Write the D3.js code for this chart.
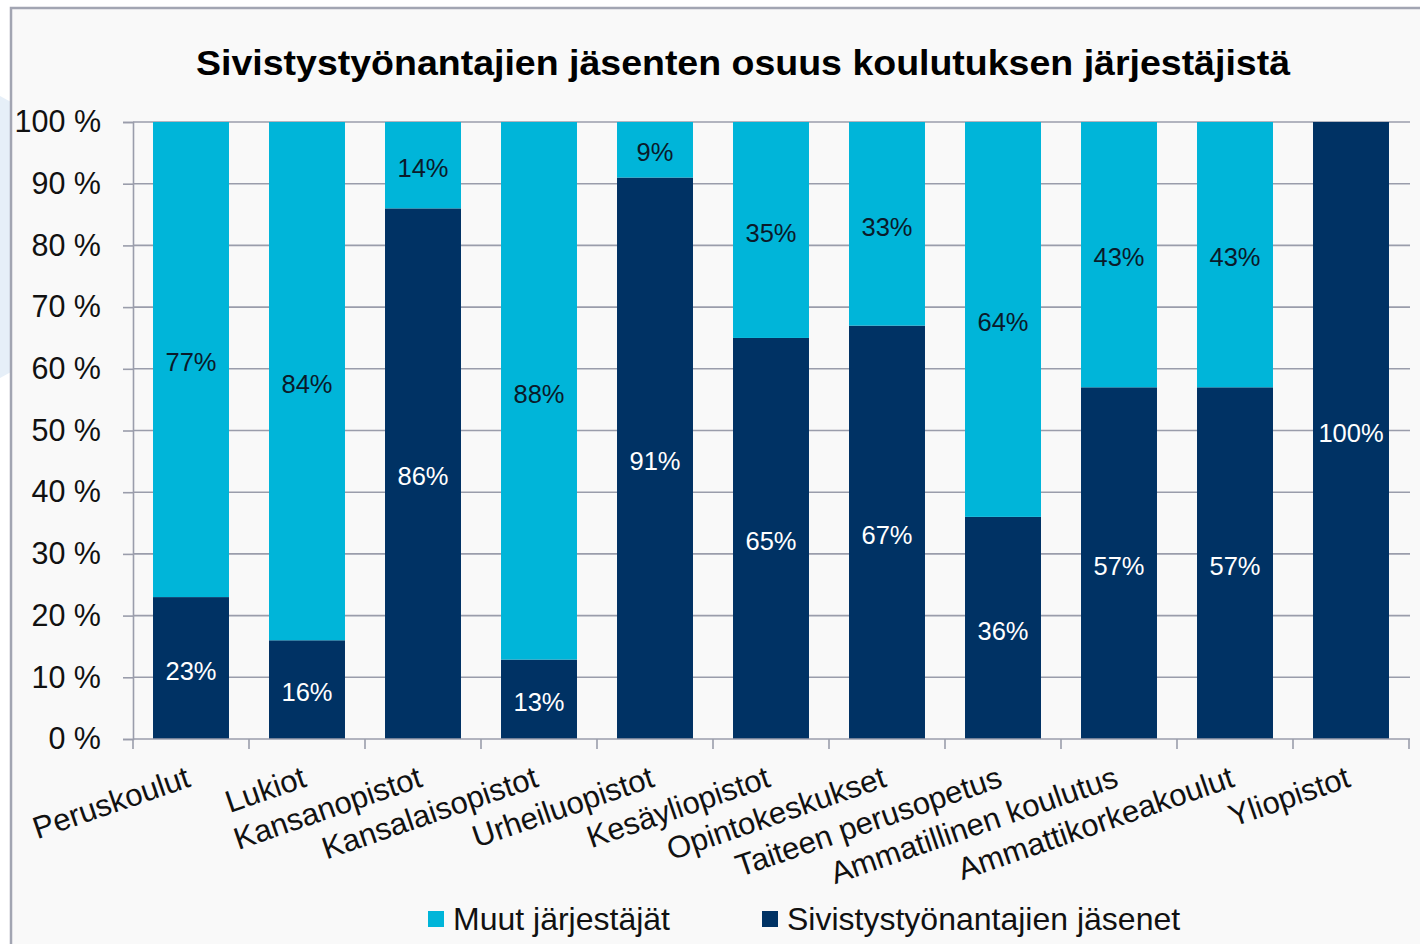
<!DOCTYPE html>
<html lang="fi">
<head>
  <meta charset="UTF-8" />
  <title>Sivistystyönantajien jäsenten osuus</title>
  <script src="https://d3js.org/d3.v7.min.js"></script>
  <style>
    body { margin: 0; background: #ffffff; }
    svg text { font-family: "Liberation Sans", Arial, sans-serif; }
  </style>
</head>
<body>
  <div id="chart"></div>

  <script>
    // data
    const categories = ["Peruskoulut", "Lukiot", "Kansanopistot", "Kansalaisopistot", "Urheiluopistot",
      "Kesäyliopistot", "Opintokeskukset", "Taiteen perusopetus", "Ammatillinen koulutus",
      "Ammattikorkeakoulut", "Yliopistot"]
    const jasenet = [23, 16, 86, 13, 91, 65, 67, 36, 57, 57, 100]   // Sivistystyönantajien jäsenet
    const muut = [77, 84, 14, 88, 9, 35, 33, 64, 43, 43, 0]          // Muut järjestäjät
    const yTicks = [0, 0.1, 0.2, 0.3, 0.4, 0.5, 0.6, 0.7, 0.8, 0.9, 1]
    const seriesNames = ["Muut järjestäjät", "Sivistystyönantajien jäsenet"]

    const colLight = "#00b5d9"
    const colDark = "#003264"
    const gridCol = "#9a9dab"

    const W = 1420, H = 944

    var svg = d3.select("#chart").append("svg")
      .attr("width", W)
      .attr("height", H)

    // faint decoration at the left edge
    svg.append("path")
      .attr("d", "M0,96 L11,102 L11,372 L0,378 Z")
      .attr("fill", "#e6eff8")

    // chart area with border
    svg.append("rect")
      .attr("x", 11).attr("y", 8)
      .attr("width", W).attr("height", H)
      .attr("fill", "#f9f9f9")
      .attr("stroke", "#a2a5b2")
      .attr("stroke-width", 2.5)

    svg.append("text")
      .attr("x", 743).attr("y", 75)
      .attr("text-anchor", "middle")
      .attr("font-size", 35)
      .attr("font-weight", "bold")
      .attr("textLength", 1094)
      .attr("lengthAdjust", "spacingAndGlyphs")
      .attr("fill", "#000")
      .text("Sivistystyönantajien jäsenten osuus koulutuksen järjestäjistä")

    var x = d3.scaleBand()
      .domain(categories)
      .range([133, 1409])
      .paddingInner(0.345)
      .paddingOuter(0.1725)

    var y = d3.scaleLinear()
      .domain([0, 1])
      .range([739, 122])

    // 100 % stacked: each column normalised to its total
    var rows = categories.map((c, i) => ({ cat: c, dark: jasenet[i], light: muut[i] }))
    var stacked = d3.stack()
      .keys(["dark", "light"])
      .offset(d3.stackOffsetExpand)(rows)

    // gridlines
    svg.append("g")
      .selectAll("line")
      .data(yTicks.filter(d => d > 0))
      .enter().append("line")
      .attr("x1", 133).attr("x2", 1410)
      .attr("y1", d => y(d)).attr("y2", d => y(d))
      .attr("stroke", gridCol)
      .attr("stroke-width", 1.6)

    // y axis
    var yAxis = svg.append("g")
      .attr("transform", "translate(133,0)")
      .call(d3.axisLeft(y).tickValues(yTicks).tickSize(10).tickPadding(22)
        .tickFormat(d => Math.round(d * 100) + " %"))
    yAxis.select(".domain").attr("stroke", gridCol).attr("stroke-width", 1.6)
    yAxis.selectAll(".tick line").attr("stroke", gridCol).attr("stroke-width", 1.6)
    yAxis.selectAll(".tick text")
      .attr("font-size", 30.5)
      .attr("fill", "#111")
      .attr("font-family", "Liberation Sans, Arial, sans-serif")

    // stacked bars
    var colour = { dark: colDark, light: colLight }
    var textCol = { dark: "#ffffff", light: "#0a1a2a" }

    var layers = svg.append("g")
      .selectAll("g")
      .data(stacked)
      .enter().append("g")
      .attr("fill", s => colour[s.key])

    layers.selectAll("rect")
      .data(s => s.filter(d => d[1] > d[0]))
      .enter().append("rect")
      .attr("x", d => x(d.data.cat))
      .attr("width", x.bandwidth())
      .attr("y", d => y(d[1]))
      .attr("height", d => y(d[0]) - y(d[1]))

    // value labels
    stacked.forEach(s => {
      svg.append("g")
        .selectAll("text")
        .data(s.filter(d => d[1] > d[0]))
        .enter().append("text")
        .attr("x", d => x(d.data.cat) + x.bandwidth() / 2)
        .attr("y", d => y((d[0] + d[1]) / 2))
        .attr("dy", "0.46em")
        .attr("text-anchor", "middle")
        .attr("font-size", 25.5)
        .attr("fill", textCol[s.key])
        .text(d => d.data[s.key] + "%")
    })

    // x axis
    var xAxis = svg.append("g")
    xAxis.append("line")
      .attr("x1", 133).attr("x2", 1410)
      .attr("y1", 739).attr("y2", 739)
      .attr("stroke", gridCol).attr("stroke-width", 1.6)
    var step = x.step()
    xAxis.selectAll("line.tk")
      .data(d3.range(categories.length + 1))
      .enter().append("line")
      .attr("x1", i => 133 + i * step).attr("x2", i => 133 + i * step)
      .attr("y1", 739).attr("y2", 749)
      .attr("stroke", gridCol).attr("stroke-width", 1.6)

    xAxis.selectAll("text")
      .data(categories)
      .enter().append("text")
      .attr("text-anchor", "end")
      .attr("font-size", 31)
      .attr("fill", "#111")
      .attr("transform", d => "translate(" + (x(d) + x.bandwidth() / 2 + 1) + ",786) rotate(-19)")
      .text(d => d)

    // legend
    var legend = svg.append("g")
    var legX = [428, 762]
    var legCol = [colLight, colDark]
    seriesNames.forEach((n, i) => {
      legend.append("rect")
        .attr("x", legX[i]).attr("y", 911)
        .attr("width", 16).attr("height", 16)
        .attr("fill", legCol[i])
      legend.append("text")
        .attr("x", legX[i] + 25).attr("y", 930)
        .attr("font-size", 32)
        .attr("fill", "#111")
        .text(n)
    })
  </script>
</body>
</html>
